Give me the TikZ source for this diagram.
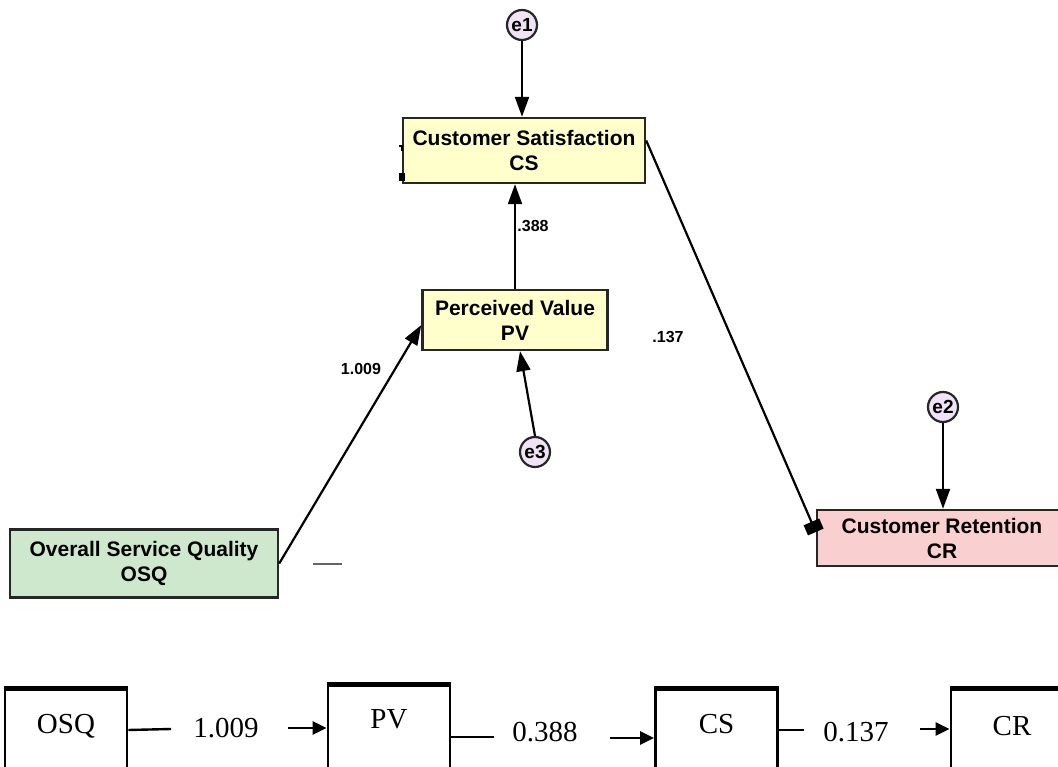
\documentclass[tikz,border=0pt]{standalone}
\usepackage{fontspec}
\setmainfont{Liberation Serif}
\setsansfont{Liberation Sans}
\usetikzlibrary{arrows.meta}

% fills of the path model
\definecolor{midfill}{HTML}{FFFFCC}
\definecolor{srcfill}{HTML}{CDE8CD}
\definecolor{outfill}{HTML}{F9CFCF}
\definecolor{errfill}{HTML}{EFE3F5}
\definecolor{edgecol}{HTML}{262626}

\tikzset{
  construct/.style={draw=edgecol, line width=2.4pt, inner sep=0pt, align=center,
    font=\sffamily\bfseries\fontsize{21}{25}\selectfont},
  errterm/.style={circle, draw=edgecol, line width=2.2pt, fill=errfill, inner sep=0pt,
    minimum size=30pt, font=\sffamily\bfseries\fontsize{19}{19}\selectfont},
  path/.style={draw=black, line width=2.2pt, -{Triangle[length=20pt,width=14pt]}},
  coef/.style={font=\sffamily\bfseries\fontsize{16}{16}\selectfont, inner sep=0pt},
  flowbox/.style={draw=black, line width=2.8pt, anchor=north, inner sep=0pt,
    minimum width=122pt, text depth=100pt, font=\fontsize{29}{29}\selectfont},
  flowlabel/.style={font=\fontsize{29}{29}\selectfont, inner sep=0pt},
  flowline/.style={draw=black, line width=2.4pt},
  flowarrow/.style={draw=black, line width=2.4pt, -{Triangle[length=14pt,width=13pt]}}
}

\begin{document}
\begin{tikzpicture}[x=1pt, y=-1pt]
\useasboundingbox (0,0) rectangle (1058,767);
\clip (0,0) rectangle (1058,767);

% ---------------- path model ----------------
\node[construct, fill=midfill, minimum width=242pt, minimum height=65pt] (CS) at (524,150.5)
  {Customer Satisfaction\\CS};
\node[construct, fill=midfill, minimum width=185pt, minimum height=60pt] (PV) at (515,320)
  {Perceived Value\\PV};
\node[construct, fill=srcfill, minimum width=268pt, minimum height=68pt] (OSQ) at (144,563.5)
  {Overall Service Quality\\OSQ};
\node[construct, fill=outfill, minimum width=250pt, minimum height=56pt] (CR) at (942,538)
  {Customer Retention\\CR};

\node[errterm] (e1) at (522,25) {e1};
\node[errterm] (e2) at (943,407) {e2};
\node[errterm] (e3) at (535,452) {e3};

% disturbances
\draw[path] (e1.south) -- (CS.north -| e1.south);
\draw[path] (e2.south) -- (CR.north -| e2.south);
\draw[path] (e3.north) -- ([xshift=5pt]PV.south);

% structural paths
\draw[path] (OSQ.east) -- ([yshift=-5pt]PV.west);
\draw[path] (PV.north) -- (PV.north |- CS.south);
\draw[draw=black, line width=2.2pt, -{Square[length=11pt,width=17pt]}]
  ([yshift=10pt]CS.east) -- ([yshift=6pt]CR.west);

\node[coef] (c1) at (361,369) {1.009};
\node[coef] (c2) at (533,226) {.388};
\node[coef] (c3) at (668,337) {.137};

% small stray marks
\fill[black] (398.5,173) rectangle (404.5,181);
\draw[black, line width=1.2pt] (399,146) -- (402,146) -- (402,151);
\draw[black!60, line width=1.4pt] (313,564) -- (342,564);

% ---------------- chain of constructs ----------------
\node[flowbox, text height=44.5pt] (bOSQ) at (66,688) {OSQ};
\node[flowbox, text height=43.5pt] (bPV) at (389,684) {PV};
\node[flowbox, text height=44.5pt] (bCS) at (716.5,688) {CS};
\node[flowbox, text height=46pt] (bCR) at (1012,688) {CR};
\foreach \b in {bOSQ,bPV,bCS,bCR}
  \draw[line width=4.5pt] (\b.north west) -- (\b.north east);

\node[flowlabel] (l1) at (226,728) {1.009};
\node[flowlabel] (l2) at (545,732) {0.388};
\node[flowlabel] (l3) at (856,732) {0.137};

\draw[flowline] ([yshift=-2pt]bOSQ.east |- l1) -- ([xshift=-22pt,yshift=-1pt]l1.west);
\draw[flowarrow] ([xshift=29pt]l1.east) -- (bPV.west |- l1.east);

\draw[flowline] ([yshift=-5pt]bPV.east |- l2) -- ([xshift=-18pt,yshift=-5pt]l2.west);
\draw[flowarrow] ([xshift=32pt,yshift=-6pt]l2.east) -- ([yshift=-6pt]bCS.west |- l2.east);

\draw[flowline] ([yshift=2pt]bCS.east |- l3) -- ([xshift=-19pt,yshift=2pt]l3.west);
\draw[flowarrow] ([xshift=31pt,yshift=3pt]l3.east) -- ([yshift=3pt]bCR.west |- l3.east);
\end{tikzpicture}
\end{document}
